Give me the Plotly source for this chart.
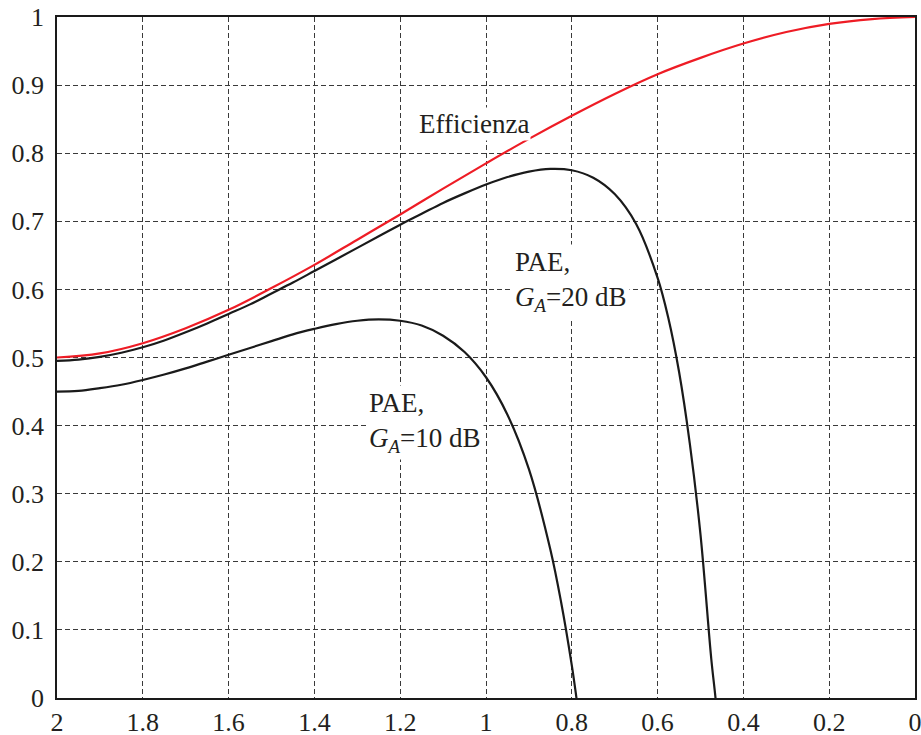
import plotly.graph_objects as go

# Efficienza (red)
eff_x = [2.0, 1.9, 1.8, 1.7, 1.6, 1.5, 1.4, 1.3, 1.2, 1.1, 1.0, 0.9, 0.8, 0.7, 0.6, 0.5, 0.4, 0.3, 0.2, 0.1, 0.0]
eff_y = [0.500, 0.506, 0.521, 0.543, 0.570, 0.602, 0.636, 0.673, 0.710, 0.748, 0.785, 0.821, 0.855, 0.887, 0.916, 0.940, 0.961, 0.978, 0.990, 0.997, 1.000]

# PAE, G_A = 20 dB
pae20_x = [2.0, 1.95, 1.9, 1.85, 1.8, 1.75, 1.7, 1.65, 1.6, 1.55, 1.5, 1.45, 1.4, 1.35, 1.3, 1.25,
           1.2, 1.15, 1.1, 1.05, 1.0, 0.95, 0.9, 0.85, 0.8, 0.75, 0.7, 0.65, 0.6,
           0.575, 0.55, 0.525, 0.5, 0.475, 0.465, 0.45]
pae20_y = [0.495, 0.497, 0.501, 0.507, 0.515, 0.525, 0.537, 0.550, 0.564, 0.578, 0.594, 0.610, 0.627, 0.644, 0.661, 0.678,
           0.695, 0.711, 0.727, 0.741, 0.754, 0.765, 0.773, 0.777, 0.775, 0.764, 0.740, 0.696, 0.617,
           0.558, 0.479, 0.374, 0.240, 0.058, 0.000, -0.100]

# PAE, G_A = 10 dB
pae10_x = [2.0, 1.95, 1.9, 1.85, 1.8, 1.75, 1.7, 1.65, 1.6, 1.55, 1.5, 1.45, 1.4, 1.35, 1.3, 1.25,
           1.2, 1.15, 1.1, 1.05, 1.0, 0.95, 0.9, 0.85, 0.825, 0.8, 0.79, 0.775]
pae10_y = [0.450, 0.451, 0.455, 0.460, 0.467, 0.475, 0.484, 0.494, 0.504, 0.514, 0.524, 0.534, 0.542, 0.549, 0.554, 0.556,
           0.554, 0.547, 0.532, 0.508, 0.471, 0.416, 0.336, 0.218, 0.141, 0.048, 0.004, -0.070]

x_ticks = [2, 1.8, 1.6, 1.4, 1.2, 1, 0.8, 0.6, 0.4, 0.2, 0]
x_tick_labels = ["2", "1.8", "1.6", "1.4", "1.2", "1", "0.8", "0.6", "0.4", "0.2", "0"]
y_ticks = [0, 0.1, 0.2, 0.3, 0.4, 0.5, 0.6, 0.7, 0.8, 0.9, 1]
y_tick_labels = ["0", "0.1", "0.2", "0.3", "0.4", "0.5", "0.6", "0.7", "0.8", "0.9", "1"]

FONT = "Liberation Serif"

fig = go.Figure()
fig.add_trace(go.Scatter(x=pae10_x, y=pae10_y, mode="lines",
                         line=dict(color="#1a1a1a", width=2.2, shape="spline", smoothing=1.0),
                         showlegend=False, cliponaxis=True))
fig.add_trace(go.Scatter(x=pae20_x, y=pae20_y, mode="lines",
                         line=dict(color="#1a1a1a", width=2.2, shape="spline", smoothing=1.0),
                         showlegend=False, cliponaxis=True))
fig.add_trace(go.Scatter(x=eff_x, y=eff_y, mode="lines",
                         line=dict(color="#ee1c25", width=2.2, shape="spline", smoothing=1.0),
                         showlegend=False, cliponaxis=True))

ann_font = dict(family=FONT, size=27, color="#231f20")
fig.add_annotation(x=1.162, y=0.843, text="Efficienza", showarrow=False,
                   xanchor="left", yanchor="middle", font=ann_font,
                   bgcolor="white", borderpad=1)
fig.add_annotation(x=0.94, y=0.612,
                   text="PAE,<br><i>G</i><sub><i>A</i></sub>=20 dB",
                   showarrow=False, xanchor="left", yanchor="middle", align="left",
                   font=ann_font, bgcolor="white", borderpad=2)
fig.add_annotation(x=1.28, y=0.405,
                   text="PAE,<br><i>G</i><sub><i>A</i></sub>=10 dB",
                   showarrow=False, xanchor="left", yanchor="middle", align="left",
                   font=ann_font, bgcolor="white", borderpad=2)

axis_common = dict(
    showgrid=True, gridcolor="#3a3a3a", gridwidth=1, griddash="5px,3px",
    showline=True, linecolor="#1a1a1a", linewidth=1.8, mirror=True,
    zeroline=False, ticks="", automargin=False, ticklabeloverflow="allow",
    tickfont=dict(family=FONT, size=26, color="#231f20"),
)

fig.update_xaxes(range=[2, 0], tickmode="array", tickvals=x_ticks, ticktext=x_tick_labels,
                 ticklabelstandoff=0, **axis_common)
fig.update_yaxes(range=[0, 1], tickmode="array", tickvals=y_ticks, ticktext=y_tick_labels,
                 ticklabelstandoff=6, **axis_common)

fig.update_layout(
    width=921, height=735,
    margin=dict(l=57, r=6, t=17, b=37),
    paper_bgcolor="white", plot_bgcolor="white",
    showlegend=False,
    font=dict(family=FONT),
)

fig.write_html("out.html")
